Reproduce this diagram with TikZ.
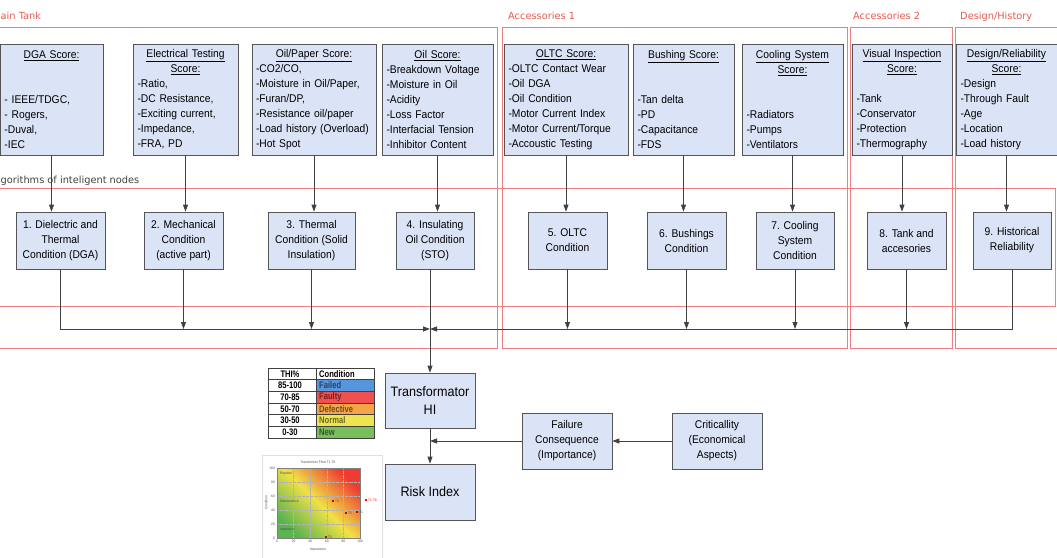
\documentclass[tikz,border=0pt]{standalone}
\usepackage{fontspec}
\setmainfont{Liberation Sans}[FakeStretch=0.92]
\newfontfamily\regionfont{DejaVu Sans}
\newfontfamily\tablefont{Liberation Sans}[FakeStretch=0.8]
\usetikzlibrary{arrows.meta}

\setlength{\parindent}{0pt}
\hyphenpenalty=10000

\definecolor{boxblue}{RGB}{219,228,246}
\definecolor{boxedge}{RGB}{85,85,85}
\definecolor{framered}{RGB}{243,125,125}
\definecolor{regionred}{RGB}{230,90,80}
\definecolor{wiregray}{RGB}{65,65,65}
\definecolor{failedblue}{RGB}{85,150,220}
\definecolor{faultyred}{RGB}{240,80,80}
\definecolor{defectorange}{RGB}{245,165,70}
\definecolor{normalyellow}{RGB}{238,228,80}
\definecolor{newgreen}{RGB}{120,190,90}
\definecolor{chartred}{RGB}{238,60,50}
\definecolor{chartyellow}{RGB}{240,225,70}
\definecolor{chartgreen}{RGB}{90,180,80}

% centred, underlined heading line inside a score box
\newcommand{\scoretitle}[1]{\hfill\underline{#1}\hfill\null}

\tikzset{
	scorebox/.style={draw=boxedge, fill=boxblue, line width=0.7pt, align=left, minimum height=111pt, inner xsep=4.5pt, inner ysep=2pt, font=\fontsize{11.2}{15}\selectfont},
	algbox/.style={draw=boxedge, fill=boxblue, line width=0.7pt, align=center, minimum height=57pt, font=\fontsize{11.2}{15}\selectfont},
	region/.style={draw=framered, line width=0.7pt},
	regionlabel/.style={text=regionred, inner sep=0pt, anchor=base west, font=\regionfont\fontsize{9.8}{11}\selectfont},
	wire/.style={draw=wiregray, line width=0.8pt},
	feed/.style={wire, -{Triangle[length=7pt, width=5pt]}},
	tabtext/.style={inner sep=0pt, font=\tablefont\bfseries\fontsize{9.5}{10}\selectfont},
	charttext/.style={inner sep=0pt, font=\fontsize{3.5}{4}\selectfont, text=black!70},
}

\begin{document}
\begin{tikzpicture}[x=1pt, y=-1pt]
	\useasboundingbox (0,0) rectangle (1057,557);
	\clip (0,0) rectangle (1057,557);

	% region frames
	\draw[region] (-2,27) rectangle (497,348);
	\draw[region] (502,27) rectangle (847,348);
	\draw[region] (850,27) rectangle (952,348);
	\draw[region] (955,27) rectangle (1062,348);
	\draw[region] (-2,188) rectangle (1055,306);
	\node[regionlabel] (lblmain) at (0.5,19) {ain Tank};
	\node[regionlabel] (lblacc1) at (508,19) {Accessories 1};
	\node[regionlabel] (lblacc2) at (853,19) {Accessories 2};
	\node[regionlabel] (lbldesign) at (960,19) {Design/History};
	\node[regionlabel, text=wiregray] (lblalgo) at (0.5,183) {gorithms of inteligent nodes};

	% top row: score boxes
	\node[scorebox, text width=94pt] (dga) at (51.5,99.5) {\scoretitle{DGA Score:}\\ \mbox{}\\ \mbox{}\\ - IEEE/TDGC,\\ - Rogers,\\ -Duval,\\ -IEC};
	\node[scorebox, text width=96pt] (elec) at (185.5,99.5) {\scoretitle{Electrical Testing}\\ \scoretitle{Score:}\\ -Ratio,\\ -DC Resistance,\\ -Exciting current,\\ -Impedance,\\ -FRA, PD};
	\node[scorebox, text width=116pt, inner xsep=4pt] (paper) at (314,99.5) {\scoretitle{Oil/Paper Score:}\\ -CO2/CO,\\ -Moisture in Oil/Paper,\\ -Furan/DP,\\ -Resistance oil/paper\\ -Load history (Overload)\\ -Hot Spot};
	\node[scorebox, text width=102pt] (oil) at (437.5,99.5) {\scoretitle{Oil Score:}\\ -Breakdown Voltage\\ -Moisture in Oil\\ -Acidity\\ -Loss Factor\\ -Interfacial Tension\\ -Inhibitor Content};
	\node[scorebox, text width=115pt] (oltc) at (566,99.5) {\scoretitle{OLTC Score:}\\ -OLTC Contact Wear\\ -Oil DGA\\ -Oil Condition\\ -Motor Current Index\\ -Motor Current/Torque\\ -Accoustic Testing};
	\node[scorebox, text width=92pt] (bush) at (683.5,99.5) {\scoretitle{Bushing Score:}\\ \mbox{}\\ \mbox{}\\ -Tan delta\\ -PD\\ -Capacitance\\ -FDS};
	\node[scorebox, text width=92pt] (cool) at (792.5,99.5) {\scoretitle{Cooling System}\\ \scoretitle{Score:}\\ \mbox{}\\ \mbox{}\\ -Radiators\\ -Pumps\\ -Ventilators};
	\node[scorebox, text width=91pt] (visual) at (902,99.5) {\scoretitle{Visual Inspection}\\ \scoretitle{Score:}\\ \mbox{}\\ -Tank\\ -Conservator\\ -Protection\\ -Thermography};
	\node[scorebox, text width=92pt] (design) at (1006.5,99.5) {\scoretitle{Design/Reliability}\\ \scoretitle{Score:}\\ -Design\\ -Through Fault\\ -Age\\ -Location\\ -Load history};

	% middle row: condition algorithms
	\node[algbox, minimum width=89pt] (alg1) at (60.5,240.5) {1. Dielectric and\\Thermal\\Condition (DGA)};
	\node[algbox, minimum width=79pt] (alg2) at (183.5,240.5) {2. Mechanical\\Condition\\(active part)};
	\node[algbox, minimum width=87pt] (alg3) at (311.5,240.5) {3. Thermal\\Condition (Solid\\Insulation)};
	\node[algbox, minimum width=78pt] (alg4) at (435,240.5) {4. Insulating\\Oil Condition\\(STO)};
	\node[algbox, minimum width=79pt] (alg5) at (567.5,240.5) {5. OLTC\\Condition};
	\node[algbox, minimum width=79pt] (alg6) at (686.5,240.5) {6. Bushings\\Condition};
	\node[algbox, minimum width=78pt] (alg7) at (795,240.5) {7. Cooling\\System\\Condition};
	\node[algbox, minimum width=79pt] (alg8) at (906.5,240.5) {8. Tank and\\accesories};
	\node[algbox, minimum width=78pt] (alg9) at (1012,240.5) {9. Historical\\Reliability};

	% bottom: health index and risk
	\node[algbox, minimum width=90pt, minimum height=55pt, font=\fontsize{13.7}{18}\selectfont] (hi) at (430,400.5) {Transformator\\HI};
	\node[algbox, minimum width=90pt, minimum height=56pt, font=\fontsize{13.7}{18}\selectfont] (risk) at (430,492) {Risk Index};
	\node[algbox, minimum width=90pt, minimum height=56pt] (fail) at (567,441) {Failure\\Consequence\\(Importance)};
	\node[algbox, minimum width=90pt, minimum height=56pt] (crit) at (717,441) {Criticallity\\(Economical\\Aspects)};

	% scores feed the algorithms
	\foreach \s/\a in {dga/alg1, elec/alg2, paper/alg3, oil/alg4, oltc/alg5, bush/alg6, cool/alg7, visual/alg8, design/alg9} {
		\draw[feed] (\s.south) -- (\s.south |- \a.north);
	}
	% collecting bus
	\coordinate (bus) at (430,329);
	\draw[feed] (alg1.south) |- (bus);
	\draw[feed] (alg9.south) |- (bus);
	\foreach \a in {alg2,alg3,alg5,alg6,alg7,alg8} {
		\draw[feed] (\a.south) -- (\a.south |- bus);
	}
	\draw[feed] (hi.north |- alg4.south) -- (hi.north);
	\draw[feed] (hi) -- (risk);
	\draw[feed] (crit) -- (fail);
	\draw[feed] (fail.west) -- (fail.west -| hi.south);

	% THI table
	\foreach \thi/\state/\col [count=\i] in {85-100/Failed/failedblue, 70-85/Faulty/faultyred, 50-70/Defective/defectorange, 30-50/Normal/normalyellow, 0-30/New/newgreen} {
		\fill[\col] (316,{368+\i*11.67}) rectangle (374,{368+(\i+1)*11.67});
		\node[tabtext] (thi\i) at (290,{368+(\i+0.5)*11.67}) {\thi};
		\node[tabtext, anchor=west, text=\col!45!black] (state\i) at (319,{368+(\i+0.5)*11.67}) {\state};
	}
	\draw[black!75, line width=0.5pt] (268,368) rectangle (374,438);
	\foreach \i in {1,...,5} {
		\draw[black!75, line width=0.5pt] (268,{368+\i*11.67}) -- (374,{368+\i*11.67});
	}
	\draw[black!75, line width=0.5pt] (316,368) -- (316,438);
	\node[tabtext] (thihead) at (290,373.8) {THI\%};
	\node[tabtext, anchor=west] (statehead) at (319,373.8) {Condition};

	% fleet chart
	\draw[black!12] (262,455) rectangle (382,562);
	\node[charttext] (charttitle) at (318,462) {Transformer Fleet T1-T6};
	\shade[top color=chartred, bottom color=chartgreen, middle color=chartyellow, shading angle=-45] (277,468) rectangle (360,538);
	\foreach \k in {1,...,4} {
		\draw[black!30, densely dotted, line width=0.3pt] ({277+\k*16.6},468) -- ({277+\k*16.6},538);
		\draw[black!30, densely dotted, line width=0.3pt] (277,{538-\k*14}) -- (360,{538-\k*14});
	}
	\draw[black!50, line width=0.3pt] (277,468) rectangle (360,538);
	\foreach \v [count=\k from 0] in {0,20,...,100} {
		\node[charttext, anchor=east] (ytick\k) at (275,{538-\k*14}) {\v};
		\node[charttext, anchor=north] (xtick\k) at ({277+\k*16.6},540) {\v};
	}
	\node[charttext, rotate=90] (yaxis) at (266,503) {Condition};
	\node[charttext] (xaxis) at (318,550) {Importance};
	\node[charttext, anchor=west] (replace) at (280,474) {Replace};
	\node[charttext, anchor=west] (maint) at (280,501) {Maintenance};
	\node[charttext, anchor=west] (insp) at (280,530) {Inspection};
	\foreach \px/\py/\tn in {333/501/T2, 346/513/T5, 357/512/T1, 326/537/T3} {
		\fill[red!80!black] (\px-1,\py-1) rectangle (\px+1,\py+1);
		\node[charttext, anchor=west] (unit\tn) at (\px+2,\py) {\tn};
	}
	\fill[red] (365,499) rectangle (367,501);
	\node[charttext, anchor=west, text=red] (legend) at (368,500) {T1-T6};
\end{tikzpicture}
\end{document}
